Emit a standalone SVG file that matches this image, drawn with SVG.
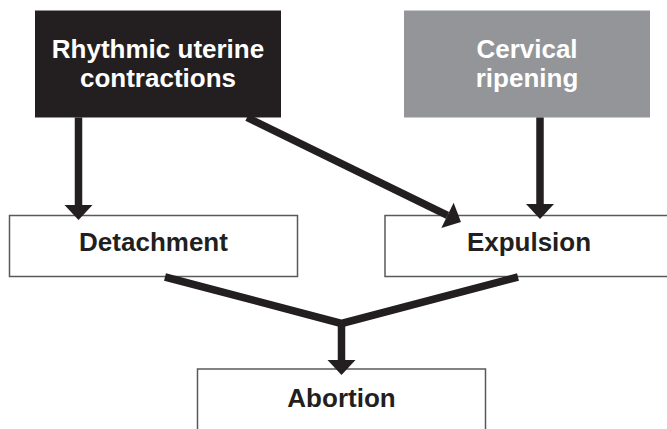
<svg xmlns="http://www.w3.org/2000/svg" width="667" height="429" viewBox="0 0 667 429">
<style>
.box{fill:#ffffff;stroke:#58595b;stroke-width:1.5}
.lbl{font-family:"Liberation Sans",Arial,sans-serif;font-weight:bold;font-size:26px;fill:#231f20;text-anchor:middle}
.top{font-family:"Liberation Sans",Arial,sans-serif;font-weight:bold;font-size:26px;fill:#ffffff;text-anchor:middle}
.con{fill:none;stroke:#231f20;stroke-width:7.5;stroke-linejoin:miter;stroke-miterlimit:10}
</style>
<defs>
<marker id="ah" markerUnits="userSpaceOnUse" markerWidth="16" markerHeight="28" refX="0" refY="14" orient="auto" overflow="visible">
<path d="M0,0 L15,14 L0,28 Z" fill="#231f20"/>
</marker>
</defs>
<g id="n-contractions">
<rect x="35" y="10.5" width="246" height="107" fill="#231f20"/>
<text class="top" x="158" y="58"><tspan x="158">Rhythmic uterine</tspan><tspan x="158" dy="29.3">contractions</tspan></text>
</g>
<g id="n-ripening">
<rect x="404" y="10.5" width="246" height="107" fill="#939598"/>
<text class="top" x="527" y="58"><tspan x="527">Cervical</tspan><tspan x="527" dy="29.3">ripening</tspan></text>
</g>
<g id="n-detachment">
<rect class="box" x="9.5" y="215.5" width="288" height="61"/>
<text class="lbl" x="153.5" y="251">Detachment</text>
</g>
<g id="n-expulsion">
<rect class="box" x="385" y="215.5" width="288" height="61"/>
<text class="lbl" x="529" y="251">Expulsion</text>
</g>
<g id="n-abortion">
<rect class="box" x="197.5" y="369" width="288" height="80"/>
<text class="lbl" x="341.5" y="407">Abortion</text>
</g>
<g id="connectors">
<path class="con" d="M78.5,117.5 L78.5,205" marker-end="url(#ah)"/>
<path class="con" d="M540,117.5 L540,204" marker-end="url(#ah)"/>
<path class="con" d="M247,117.5 L447.5,215.4" marker-end="url(#ah)"/>
<path class="con" d="M165,277 L341.5,323.5 L518,277"/>
<path class="con" d="M341.5,323 L341.5,360" marker-end="url(#ah)"/>
</g>
</svg>
